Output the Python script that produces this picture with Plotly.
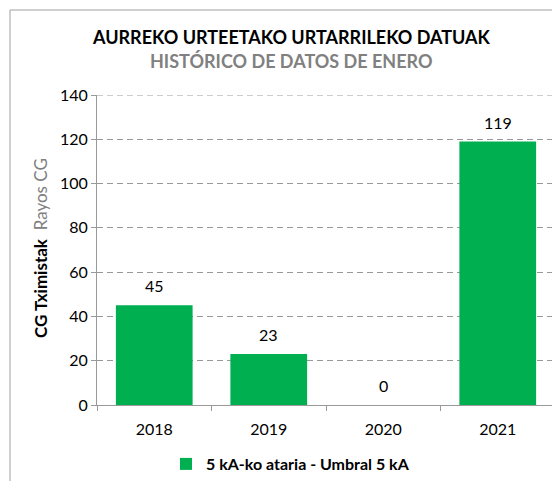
import plotly.graph_objects as go

years = ["2018", "2019", "2020", "2021"]
values = [45, 23, 0, 119]
series_name = "5 kA-ko ataria - Umbral 5 kA"
title_main = "AURREKO URTEETAKO URTARRILEKO DATUAK"
title_sub = "HISTÓRICO DE DATOS DE ENERO"
ytitle_a = "CG Tximistak"
ytitle_b = "Rayos CG"
yticks = [0, 20, 40, 60, 80, 100, 120, 140]

FONT = "Lato"
GREEN = "#00b050"
GRID = "#999999"
OFF = 8  # page body margin
W, H = 560 - OFF, 481 - OFF
# plot area in page pixels
PL, PR, PT, PB = 97, 555, 95, 405
L, T = PL - OFF, PT - OFF
R, B = W - (PR - OFF), H - (PB - OFF)
pw = PR - PL
ph = PB - PT

def px_x(x):
    return (x - PL) / pw

def px_y(y):
    return 1 - (y - PT) / ph

fig = go.Figure()
fig.add_trace(go.Bar(
    x=years, y=values, name=series_name,
    marker=dict(color=GREEN, line=dict(width=0)),
    cliponaxis=False, showlegend=True,
))

# category axes take index positions for annotations
annotations = [
    dict(x=i, y=v, xref="x", yref="y", text=str(v), showarrow=False,
         yanchor="bottom", yshift=8, font=dict(family=FONT, size=16, color="#000000"))
    for i, v in enumerate(values)
]
annotations += [
    dict(text="<b>" + title_main + "</b>", xref="paper", yref="paper",
         x=px_x(291), y=px_y(37), xanchor="center", yanchor="middle", showarrow=False,
         font=dict(family=FONT, size=18, color="#000000")),
    dict(text="<b>" + title_sub + "</b>", xref="paper", yref="paper",
         x=px_x(291), y=px_y(61), xanchor="center", yanchor="middle", showarrow=False,
         font=dict(family=FONT, size=18, color="#808080")),
    dict(text="<b>" + ytitle_a + "</b>  <span style='color:#808080'>" + ytitle_b + "</span>",
         xref="paper", yref="paper", x=px_x(40), y=px_y(248), textangle=-90,
         xanchor="center", yanchor="middle", showarrow=False,
         font=dict(family=FONT, size=17, color="#000000")),
]

fig.update_layout(
    width=W, height=H,
    margin=dict(l=L, r=R, t=T, b=B, autoexpand=False),
    paper_bgcolor="white", plot_bgcolor="white",
    bargap=0.33,
    font=dict(family=FONT, size=15, color="#000000"),
    showlegend=True,
    legend=dict(orientation="h", x=px_x(166), xanchor="left", y=px_y(464), yanchor="middle",
                font=dict(family=FONT, size=16, color="#000000", weight="bold"),
                itemwidth=30, bgcolor="rgba(0,0,0,0)"),
    xaxis=dict(type="category", range=[-0.5, len(years) - 0.5],
               showline=True, linecolor=GRID, linewidth=1,
               ticks="outside", tickson="boundaries", ticklen=5, tickcolor=GRID,
               ticklabelstandoff=10,
               tickfont=dict(family=FONT, size=16, color="#000000"), showgrid=False),
    yaxis=dict(range=[0, 140], tickvals=yticks, showline=True, linecolor=GRID, linewidth=1,
               ticks="outside", ticklen=5, tickcolor=GRID,
               tickfont=dict(family=FONT, size=16, color="#000000"),
               showgrid=True, gridcolor=GRID, griddash="6px,4px", gridwidth=1,
               zeroline=False),
    annotations=annotations,
    shapes=[
        dict(type="line", xref="paper", yref="y", x0=0, x1=1, y0=yticks[-1], y1=yticks[-1],
             line=dict(color=GRID, width=1, dash="6px,4px"), layer="below"),
        dict(type="line", xref="paper", yref="paper", x0=px_x(10), x1=px_x(10),
             y0=px_y(10), y1=px_y(481), line=dict(color="#a0a0a0", width=1)),
        dict(type="line", xref="paper", yref="paper", x0=px_x(10), x1=px_x(560),
             y0=px_y(10), y1=px_y(10), line=dict(color="#a0a0a0", width=1)),
    ],
)

fig.write_html("out.html")
